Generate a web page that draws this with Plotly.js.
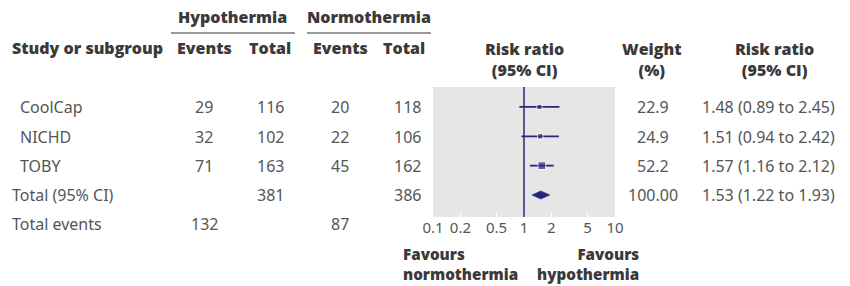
<!DOCTYPE html>
<html><head><meta charset="utf-8">
<script src="https://cdn.plot.ly/plotly-3.0.1.min.js"></script>
<style>body{margin:0;background:#fff}#c{width:850px;height:286px}</style>
</head><body><div id="c"></div>
<script>
// ---- data ----
const studies = ["CoolCap", "NICHD", "TOBY"];
const hypEvents = [29, 32, 71];
const hypTotal = [116, 102, 163];
const normEvents = [20, 22, 45];
const normTotal = [118, 106, 162];
const rr = [1.48, 1.51, 1.57];
const rrLo = [0.89, 0.94, 1.16];
const rrHi = [2.45, 2.42, 2.12];
const weights = ["22.9", "24.9", "52.2"];
const totalLabel = "Total (95% CI)";
const totalHypN = 381, totalNormN = 386;
const totalWeight = "100.00";
const totalRR = 1.53, totalLo = 1.22, totalHi = 1.93;
const eventsLabel = "Total events";
const totalHypEvents = 132, totalNormEvents = 87;
const xTicks = [0.1, 0.2, 0.5, 1, 2, 5, 10];
const xTickText = ["0.1", "0.2", "0.5", "1", "2", "5", "10"];

// ---- layout helpers ----
const L = 433, R = 615, T = 87, B = 217;
const px = v => (v - L) / (R - L);
const py = v => (B - v) / (B - T);
const navy = "#27277a";
const txt = "#555555";
const hdr = "#3b3939";
const bodyFont = {family: "Noto Sans, sans-serif", size: 16, color: txt};
const boldFont = {family: "Open Sans, sans-serif", size: 16, color: hdr, weight: 800};
const favFont = {family: "Open Sans, sans-serif", size: 15.2, color: hdr, weight: 800};

const rowPx = [107, 136.5, 166, 195, 224]; // pixel rows (for paper-placed text)
const rowY = [4, 3, 2]; // study rows in data units
const totalY = 1;

const fmt = (e, l, h) => e.toFixed(2) + " (" + l.toFixed(2) + " to " + h.toFixed(2) + ")";

const ann = [];
function A(text, x, y, xanchor, font) {
  ann.push({text: text, x: px(x), xref: "paper", y: py(y), yref: "paper",
    xanchor: xanchor, yanchor: "middle", showarrow: false, font: font});
}
// headers
A("Hypothermia", 233, 17, "center", boldFont);
A("Normothermia", 369, 17, "center", boldFont);
A("Study or subgroup", 10, 48, "left", boldFont);
A("Events", 204, 48, "center", boldFont);
A("Total", 270, 48, "center", boldFont);
A("Events", 340, 48, "center", boldFont);
A("Total", 404, 48, "center", boldFont);
A("Risk ratio<br>(95% CI)", 524, 59, "center", boldFont);
A("Weight<br>(%)", 652, 59, "center", boldFont);
A("Risk ratio<br>(95% CI)", 774, 59, "center", boldFont);
// rows
studies.forEach((s, i) => {
  const y = rowPx[i];
  A(s, 18, y, "left", bodyFont);
  A(String(hypEvents[i]), 204, y, "center", bodyFont);
  A(String(hypTotal[i]), 270, y, "center", bodyFont);
  A(String(normEvents[i]), 340, y, "center", bodyFont);
  A(String(normTotal[i]), 407, y, "center", bodyFont);
  A(weights[i], 653, y, "center", bodyFont);
  A(fmt(rr[i], rrLo[i], rrHi[i]), 700, y, "left", bodyFont);
});
A(totalLabel, 10, rowPx[3], "left", bodyFont);
A(String(totalHypN), 270, rowPx[3], "center", bodyFont);
A(String(totalNormN), 407, rowPx[3], "center", bodyFont);
A(totalWeight, 653, rowPx[3], "center", bodyFont);
A(fmt(totalRR, totalLo, totalHi), 700, rowPx[3], "left", bodyFont);
A(eventsLabel, 10, rowPx[4], "left", bodyFont);
A(String(totalHypEvents), 204, rowPx[4], "center", bodyFont);
A(String(totalNormEvents), 340, rowPx[4], "center", bodyFont);
// favours
ann.push({text: "Favours<br>normothermia", x: px(401), xref: "paper", y: py(264), yref: "paper",
  xanchor: "left", yanchor: "middle", align: "left", showarrow: false, font: favFont});
ann.push({text: "Favours<br>hypothermia", x: px(641), xref: "paper", y: py(264), yref: "paper",
  xanchor: "right", yanchor: "middle", align: "right", showarrow: false, font: favFont});

const traces = [
  {type: "scatter", mode: "markers", x: rr, y: rowY, cliponaxis: false,
   marker: {symbol: "square", color: navy, size: weights.map(w => 1.07 * Math.sqrt(parseFloat(w)))},
   error_x: {type: "data", symmetric: false,
     array: rr.map((v, i) => rrHi[i] - v), arrayminus: rr.map((v, i) => v - rrLo[i]),
     color: navy, thickness: 1.8, width: 0}, hoverinfo: "skip"},
  {type: "scatter", mode: "lines", fill: "toself", fillcolor: navy, line: {color: navy, width: 0.5},
   x: [totalLo, totalRR, totalHi, totalRR, totalLo],
   y: [totalY, totalY + 0.14, totalY, totalY - 0.14, totalY], hoverinfo: "skip"}
];

const layout = {
  width: 850, height: 286, showlegend: false,
  margin: {l: L, r: 850 - R, t: T, b: 286 - B, pad: 0},
  paper_bgcolor: "#ffffff", plot_bgcolor: "#e6e6e6",
  xaxis: {type: "log", range: [-1, 1], tickvals: xTicks, ticktext: xTickText,
    showgrid: false, zeroline: false, ticks: "inside", ticklen: 5, tickwidth: 1.5, tickcolor: "#ffffff",
    tickfont: {family: "Noto Sans, sans-serif", size: 15, color: txt}, showline: false, fixedrange: true},
  yaxis: {range: [0.25, 4.68], showgrid: false, zeroline: false, showticklabels: false, ticks: "", showline: false},
  shapes: [
    {type: "line", xref: "x", yref: "paper", x0: 1, x1: 1, y0: 0, y1: 1, line: {color: navy, width: 1.5}},
    {type: "line", xref: "paper", yref: "paper", x0: px(171), x1: px(295), y0: py(33), y1: py(33), line: {color: "#777", width: 1.5}},
    {type: "line", xref: "paper", yref: "paper", x0: px(307), x1: px(431), y0: py(33), y1: py(33), line: {color: "#777", width: 1.5}}
  ],
  annotations: ann
};
Plotly.newPlot("c", traces, layout, {displayModeBar: false, staticPlot: true});
</script></body></html>
